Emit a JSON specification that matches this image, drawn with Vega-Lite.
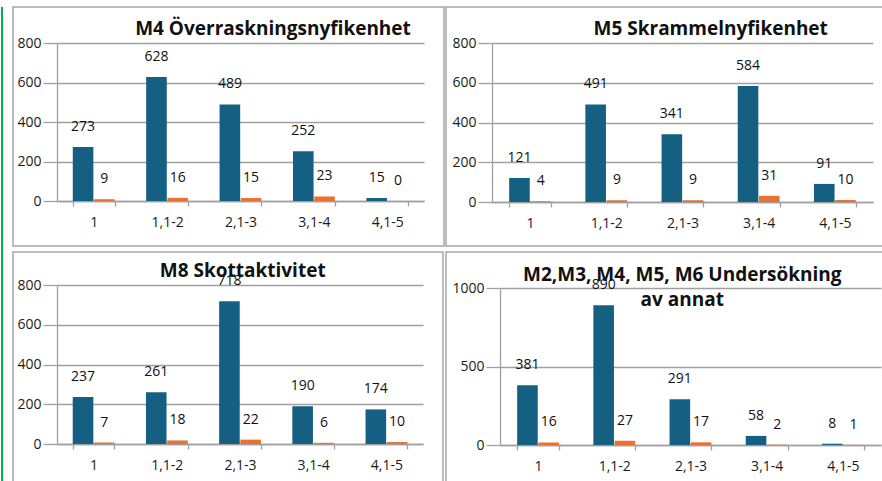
{
  "$schema": "https://vega.github.io/schema/vega-lite/v6.json",
  "padding": {"left": 1, "top": 6, "right": 0, "bottom": 0},
  "background": "white",
  "spacing": 9,
  "hconcat": [
    {
      "width": 2, "height": 475,
      "view": {"fill": "#00b050", "stroke": null},
      "data": {"values": [{"a": 1}]},
      "mark": {"type": "point", "size": 0, "opacity": 0}
    },
    {
      "spacing": 4,
      "vconcat": [
        {
          "spacing": 0,
          "hconcat": [
            {
              "width": 431, "height": 239,
              "title": {"text": "M4 Överraskningsnyfikenhet", "offset": -47, "dx": 44.5, "baseline": "alphabetic", "anchor": "middle", "frame": "group"},
              "data": {"values": [
                {"kat": "1", "serie": "s1", "v": 273}, {"kat": "1", "serie": "s2", "v": 9},
                {"kat": "1,1-2", "serie": "s1", "v": 628}, {"kat": "1,1-2", "serie": "s2", "v": 16},
                {"kat": "2,1-3", "serie": "s1", "v": 489}, {"kat": "2,1-3", "serie": "s2", "v": 15},
                {"kat": "3,1-4", "serie": "s1", "v": 252}, {"kat": "3,1-4", "serie": "s2", "v": 23},
                {"kat": "4,1-5", "serie": "s1", "v": 15}, {"kat": "4,1-5", "serie": "s2", "v": 0}
              ]},
              "encoding": {
                "x": {"field": "kat", "type": "nominal", "title": null, "sort": ["1", "1,1-2", "2,1-3", "3,1-4", "4,1-5"], "scale": {"range": [44, 411], "paddingInner": 0.43, "paddingOuter": 0.215}, "axis": {"offset": -45}},
                "xOffset": {"field": "serie", "type": "nominal", "scale": {"paddingInner": 0.03, "paddingOuter": 0}},
                "y": {"field": "v", "type": "quantitative", "title": null, "scale": {"domain": [0, 800], "range": [194, 36], "nice": false}, "axis": {"offset": -44, "values": [0, 200, 400, 600, 800], "format": "d"}},
                "color": {"field": "serie", "type": "nominal", "scale": {"domain": ["s1", "s2"], "range": ["#156082", "#E97132"]}, "legend": null}
              },
              "layer": [
                {"mark": {"type": "bar"}},
                {"mark": {"type": "text", "dy": -16, "baseline": "alphabetic"}, "encoding": {"text": {"field": "v", "type": "quantitative"}, "color": {"value": "#111111"}}}
              ]
            },
            {
              "width": 438, "height": 239,
              "title": {"text": "M5 Skrammelnyfikenhet", "offset": -47, "dx": 45.7, "baseline": "alphabetic", "anchor": "middle", "frame": "group"},
              "data": {"values": [
                {"kat": "1", "serie": "s1", "v": 121}, {"kat": "1", "serie": "s2", "v": 4},
                {"kat": "1,1-2", "serie": "s1", "v": 491}, {"kat": "1,1-2", "serie": "s2", "v": 9},
                {"kat": "2,1-3", "serie": "s1", "v": 341}, {"kat": "2,1-3", "serie": "s2", "v": 9},
                {"kat": "3,1-4", "serie": "s1", "v": 584}, {"kat": "3,1-4", "serie": "s2", "v": 31},
                {"kat": "4,1-5", "serie": "s1", "v": 91}, {"kat": "4,1-5", "serie": "s2", "v": 10}
              ]},
              "encoding": {
                "x": {"field": "kat", "type": "nominal", "title": null, "sort": ["1", "1,1-2", "2,1-3", "3,1-4", "4,1-5"], "scale": {"range": [46, 427], "paddingInner": 0.45, "paddingOuter": 0.225}, "axis": {"offset": -44}},
                "xOffset": {"field": "serie", "type": "nominal", "scale": {"paddingInner": 0.03, "paddingOuter": 0}},
                "y": {"field": "v", "type": "quantitative", "title": null, "scale": {"domain": [0, 800], "range": [195, 36], "nice": false}, "axis": {"offset": -46, "values": [0, 200, 400, 600, 800], "format": "d"}},
                "color": {"field": "serie", "type": "nominal", "scale": {"domain": ["s1", "s2"], "range": ["#156082", "#E97132"]}, "legend": null}
              },
              "layer": [
                {"mark": {"type": "bar"}},
                {"mark": {"type": "text", "dy": -16, "baseline": "alphabetic"}, "encoding": {"text": {"field": "v", "type": "quantitative"}, "color": {"value": "#111111"}}}
              ]
            }
          ]
        },
        {
          "spacing": 1,
          "hconcat": [
            {
              "width": 430, "height": 231,
              "title": {"text": "M8 Skottaktivitet", "offset": -43.5, "dx": 14.7, "baseline": "alphabetic", "anchor": "middle", "frame": "group"},
              "data": {"values": [
                {"kat": "1", "serie": "s1", "v": 237}, {"kat": "1", "serie": "s2", "v": 7},
                {"kat": "1,1-2", "serie": "s1", "v": 261}, {"kat": "1,1-2", "serie": "s2", "v": 18},
                {"kat": "2,1-3", "serie": "s1", "v": 718}, {"kat": "2,1-3", "serie": "s2", "v": 22},
                {"kat": "3,1-4", "serie": "s1", "v": 190}, {"kat": "3,1-4", "serie": "s2", "v": 6},
                {"kat": "4,1-5", "serie": "s1", "v": 174}, {"kat": "4,1-5", "serie": "s2", "v": 10}
              ]},
              "encoding": {
                "x": {"field": "kat", "type": "nominal", "title": null, "sort": ["1", "1,1-2", "2,1-3", "3,1-4", "4,1-5"], "scale": {"range": [44, 410], "paddingInner": 0.43, "paddingOuter": 0.215}, "axis": {"offset": -39}},
                "xOffset": {"field": "serie", "type": "nominal", "scale": {"paddingInner": 0.03, "paddingOuter": 0}},
                "y": {"field": "v", "type": "quantitative", "title": null, "scale": {"domain": [0, 800], "range": [192, 33], "nice": false}, "axis": {"offset": -44, "values": [0, 200, 400, 600, 800], "format": "d"}},
                "color": {"field": "serie", "type": "nominal", "scale": {"domain": ["s1", "s2"], "range": ["#156082", "#E97132"]}, "legend": null}
              },
              "layer": [
                {"mark": {"type": "bar"}},
                {"mark": {"type": "text", "dy": -16, "baseline": "alphabetic"}, "encoding": {"text": {"field": "v", "type": "quantitative"}, "color": {"value": "#111111"}}}
              ]
            },
            {
              "width": 438, "height": 231,
              "title": {"text": ["M2,M3, M4, M5, M6 Undersökning", "av annat"], "lineHeight": 25, "offset": -73.3, "dx": 17.3, "baseline": "alphabetic", "anchor": "middle", "frame": "group"},
              "data": {"values": [
                {"kat": "1", "serie": "s1", "v": 381}, {"kat": "1", "serie": "s2", "v": 16},
                {"kat": "1,1-2", "serie": "s1", "v": 890}, {"kat": "1,1-2", "serie": "s2", "v": 27},
                {"kat": "2,1-3", "serie": "s1", "v": 291}, {"kat": "2,1-3", "serie": "s2", "v": 17},
                {"kat": "3,1-4", "serie": "s1", "v": 58}, {"kat": "3,1-4", "serie": "s2", "v": 2},
                {"kat": "4,1-5", "serie": "s1", "v": 8}, {"kat": "4,1-5", "serie": "s2", "v": 1}
              ]},
              "encoding": {
                "x": {"field": "kat", "type": "nominal", "title": null, "sort": ["1", "1,1-2", "2,1-3", "3,1-4", "4,1-5"], "scale": {"range": [54, 435], "paddingInner": 0.45, "paddingOuter": 0.225}, "axis": {"offset": -38}},
                "xOffset": {"field": "serie", "type": "nominal", "scale": {"paddingInner": 0.03, "paddingOuter": 0}},
                "y": {"field": "v", "type": "quantitative", "title": null, "scale": {"domain": [0, 1000], "range": [193, 36], "nice": false}, "axis": {"offset": -54, "values": [0, 500, 1000], "format": "d"}},
                "color": {"field": "serie", "type": "nominal", "scale": {"domain": ["s1", "s2"], "range": ["#156082", "#E97132"]}, "legend": null}
              },
              "layer": [
                {"mark": {"type": "bar"}},
                {"mark": {"type": "text", "dy": -16, "baseline": "alphabetic"}, "encoding": {"text": {"field": "v", "type": "quantitative"}, "color": {"value": "#111111"}}}
              ]
            }
          ]
        }
      ]
    }
  ],
  "config": {
    "view": {"stroke": "#a6a6a6", "strokeWidth": 1.5},
    "font": "Open Sans",
    "title": {"font": "Open Sans", "fontSize": 19, "fontWeight": "bold", "color": "#111111"},
    "text": {"font": "Open Sans", "fontSize": 14},
    "axis": {
      "domainColor": "#a0a0a0", "domainWidth": 1.3,
      "tickColor": "#a0a0a0", "tickWidth": 1.3,
      "gridColor": "#a0a0a0", "gridWidth": 1.3,
      "labelFont": "Open Sans", "labelFontSize": 14, "labelColor": "#1a1a1a"
    },
    "axisX": {"grid": false, "tickBand": "extent", "tickSize": 5, "labelPadding": 9, "labelAngle": 0},
    "axisY": {"grid": true, "tickSize": 14, "labelPadding": 2}
  }
}
